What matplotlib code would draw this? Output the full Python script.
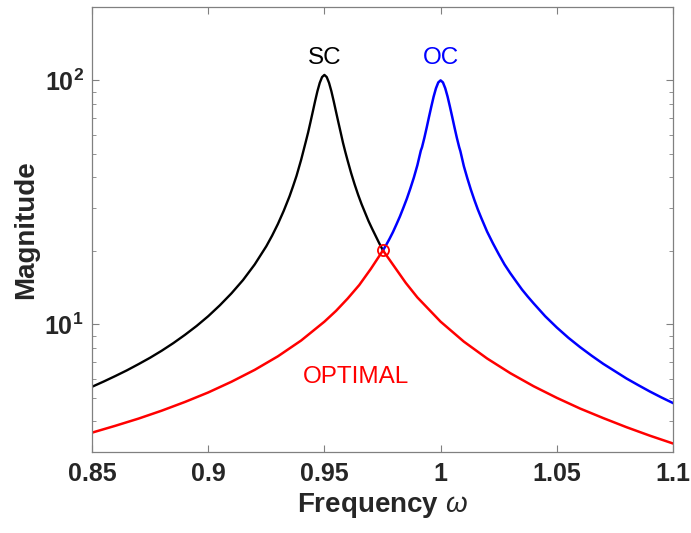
import math
import matplotlib
matplotlib.use('Agg')
import matplotlib.pyplot as plt
from matplotlib.ticker import FuncFormatter, FixedLocator

# values (frequency, magnitude)
sc_freq = [0.85, 0.855, 0.86, 0.865, 0.87, 0.875, 0.88, 0.885, 0.89, 0.895,
           0.90, 0.905, 0.91, 0.915, 0.92, 0.925, 0.9275, 0.93, 0.9325, 0.935,
           0.9365, 0.938, 0.94, 0.942, 0.943, 0.944, 0.945, 0.946, 0.947, 0.948,
           0.949, 0.95, 0.951, 0.952, 0.953, 0.954, 0.955, 0.956, 0.957, 0.958,
           0.959, 0.96, 0.9615, 0.963, 0.9645, 0.966, 0.9675, 0.969, 0.9705, 0.972,
           0.9735, 0.9752]
sc_mag = [5.55, 5.83, 6.14, 6.48, 6.87, 7.30, 7.80, 8.38, 9.06, 9.85,
          10.8, 11.97, 13.4, 15.2, 17.6, 20.9, 23.1, 25.8, 29.2, 33.5,
          36.8, 40.6, 47.3, 56.1, 61.2, 67.4, 74.4, 82.2, 90.3, 97.7,
          103.2, 105.3, 103.2, 97.7, 90.3, 82.2, 74.4, 67.4, 61.2, 55.5,
          50.9, 46.9, 41.7, 37.5, 34.0, 31.1, 28.7, 26.5, 24.7, 23.1,
          21.6, 20.1]

oc_freq = [0.9752, 0.9765, 0.978, 0.9795, 0.981, 0.9825, 0.984, 0.9855, 0.987, 0.9885,
           0.99, 0.9915, 0.992, 0.993, 0.994, 0.995, 0.996, 0.997, 0.998, 0.999,
           1.0, 1.001, 1.002, 1.003, 1.004, 1.005, 1.006, 1.007, 1.008, 1.0085,
           1.01, 1.0115, 1.013, 1.0145, 1.016, 1.0175, 1.02, 1.0225, 1.025, 1.0275,
           1.03, 1.0325, 1.035, 1.0375, 1.04, 1.045, 1.05, 1.055, 1.06, 1.065,
           1.07, 1.075, 1.08, 1.085, 1.09, 1.095, 1.1]
oc_mag = [20.1, 21.1, 22.4, 23.9, 25.7, 27.7, 30.1, 32.8, 36.1, 40.0,
          44.9, 51.6, 53.2, 58.1, 64.0, 70.8, 78.1, 85.8, 92.8, 98.1,
          100.0, 98.1, 92.8, 85.8, 78.1, 70.8, 64.0, 58.1, 53.2, 51.3,
          44.5, 39.7, 35.7, 32.4, 29.6, 27.3, 24.0, 21.5, 19.4, 17.6,
          16.2, 15.0, 13.9, 13.0, 12.2, 10.8, 9.71, 8.81, 8.07, 7.44,
          6.89, 6.43, 6.00, 5.64, 5.31, 5.02, 4.76]

opt_freq = [0.85, 0.86, 0.87, 0.88, 0.89, 0.90, 0.91, 0.92, 0.93, 0.94,
            0.95, 0.955, 0.96, 0.965, 0.97, 0.9752, 0.98, 0.985, 0.99, 1.0,
            1.01, 1.02, 1.03, 1.04, 1.05, 1.06, 1.07, 1.08, 1.09, 1.1]
opt_mag = [3.60, 3.84, 4.11, 4.43, 4.81, 5.26, 5.82, 6.51, 7.40, 8.59,
           10.26, 11.36, 12.76, 14.5, 16.9, 20.1, 17.3, 14.8, 12.9, 10.26,
           8.50, 7.25, 6.31, 5.58, 5.00, 4.52, 4.13, 3.79, 3.50, 3.25]

fixed_freq = [0.9752]
fixed_mag = [20.1]

xticks = [0.85, 0.9, 0.95, 1.0, 1.05, 1.1]
xticklabels = ['0.85', '0.9', '0.95', '1', '1.05', '1.1']

font = 'Liberation Sans'
plt.rcParams['font.family'] = [font, 'DejaVu Sans']
plt.rcParams['mathtext.fontset'] = 'custom'
plt.rcParams['mathtext.rm'] = font + ':bold'
plt.rcParams['mathtext.bf'] = font + ':bold'
plt.rcParams['mathtext.it'] = font + ':italic'

fig = plt.figure(figsize=(6.91, 5.33), dpi=100)
ax = fig.add_axes([0.1331, 0.152, 0.8409, 0.835])

ax.plot(sc_freq, sc_mag, color='black', lw=1.7)
ax.plot(oc_freq, oc_mag, color='blue', lw=1.8)
ax.plot(opt_freq, opt_mag, color='red', lw=1.8)
ax.plot(fixed_freq, fixed_mag, 'o', mfc='none', mec='red', ms=8, mew=1.3)

ax.set_yscale('log')
ax.set_xlim(0.85, 1.1)
ax.set_ylim(3, 200)

# curve names
ax.text(0.95, 124, 'SC', color='black', fontsize=17.5, ha='center', va='center')
ax.text(1.0, 124, 'OC', color='blue', fontsize=17.5, ha='center', va='center')
ax.text(0.9637, 6.1, 'OPTIMAL', color='red', fontsize=17.5, ha='center', va='center')

ax.xaxis.set_major_locator(FixedLocator(xticks))
ax.set_xticklabels(xticklabels)
ax.yaxis.set_major_formatter(FuncFormatter(lambda v, p: r'$\mathbf{10^{%d}}$' % round(math.log10(v))))

for lab in ax.get_xticklabels():
    lab.set_fontweight('bold')
ax.tick_params(axis='both', which='both', direction='in', top=True, right=True,
               colors='#808080', labelcolor='#262626', labelsize=18)
ax.tick_params(axis='x', which='major', length=5, pad=7)
ax.tick_params(axis='y', which='major', length=5, pad=6)
ax.tick_params(axis='y', which='minor', length=3)
for s in ax.spines.values():
    s.set_color('#808080')
    s.set_linewidth(0.9)

ax.set_xlabel(r'Frequency $\omega$', fontsize=20, fontweight='bold', color='#262626', labelpad=4)
ax.set_ylabel('Magnitude', fontsize=20, fontweight='bold', color='#262626', labelpad=4)

fig.savefig('out.png', dpi=100)
